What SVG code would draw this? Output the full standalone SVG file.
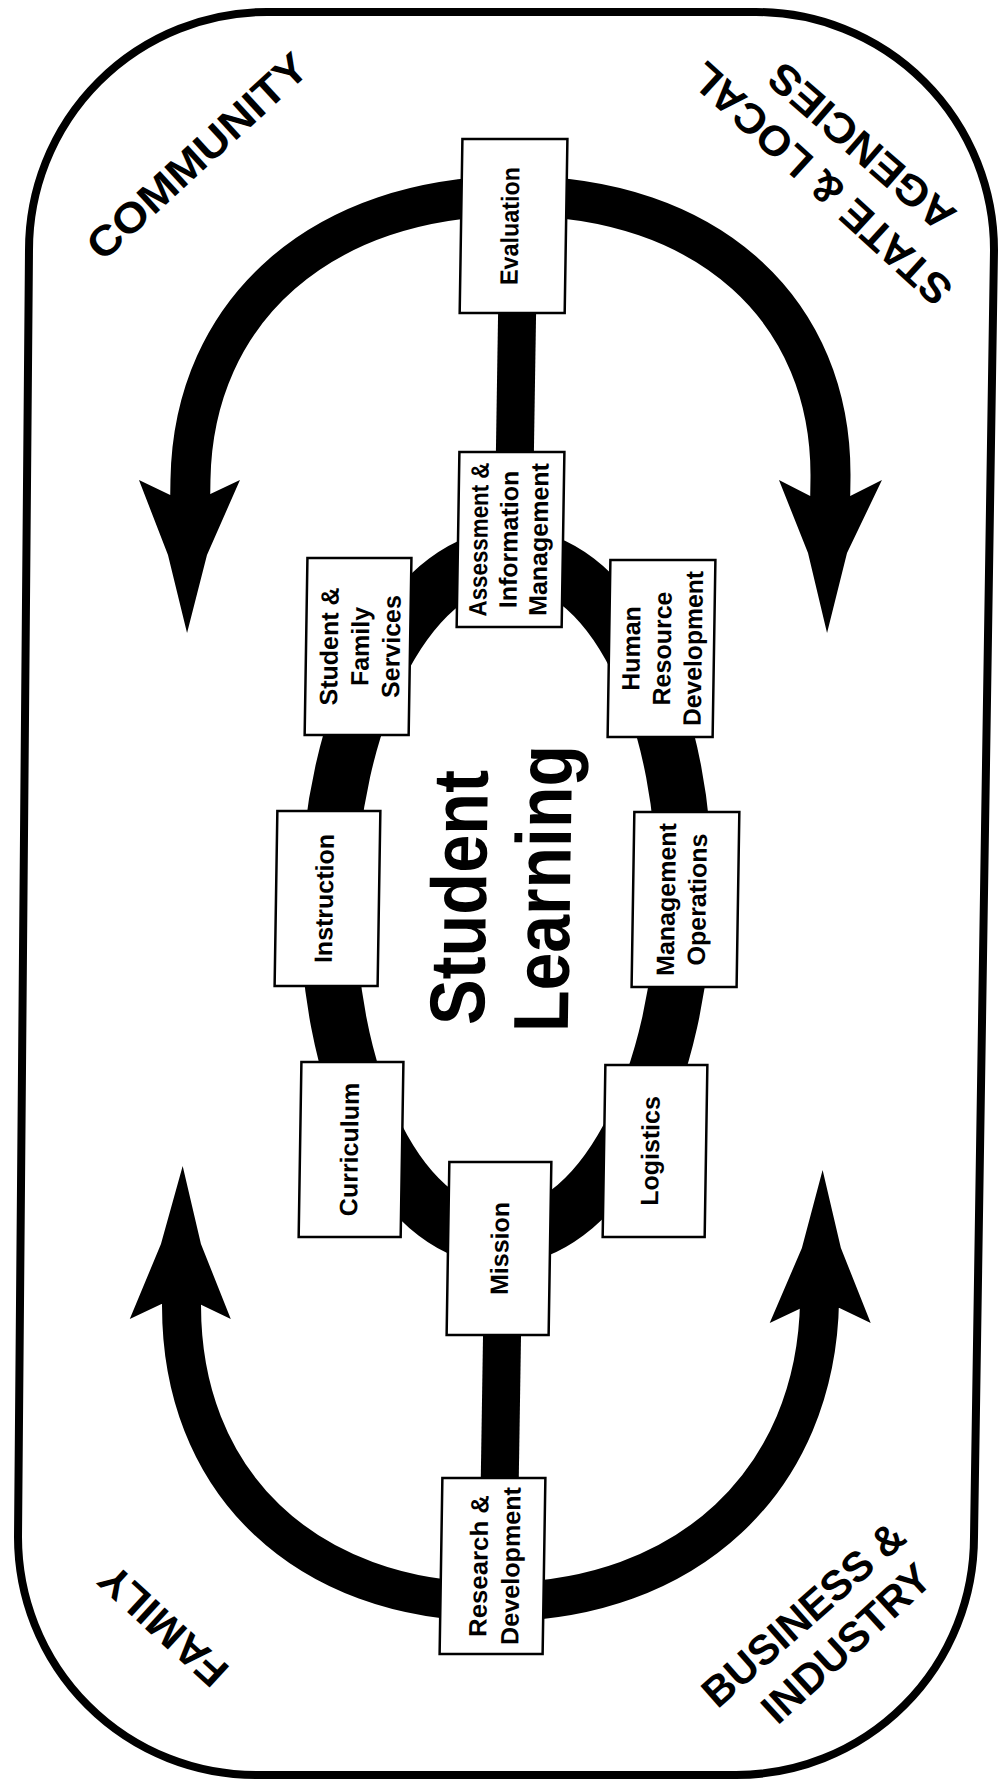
<svg xmlns="http://www.w3.org/2000/svg" width="1000" height="1782" viewBox="0 0 1000 1782">
<style>
.bg{fill:#fff}
.frame{fill:none;stroke:#000;stroke-width:8}
.band{fill:none;stroke:#000;stroke-linecap:butt}
.head,.bar{fill:#000}
.box rect{fill:#fff;stroke:#000;stroke-width:2.5}
.box text{font-family:"Liberation Sans",Arial,sans-serif;font-weight:bold;font-size:25px;text-anchor:middle;fill:#000}
.corner{font-family:"Liberation Sans",Arial,sans-serif;font-weight:bold;font-size:42px;text-anchor:middle;fill:#000}
.center{font-family:"Liberation Sans",Arial,sans-serif;font-weight:bold;font-size:78px;fill:#000}
</style>
<rect class="bg" width="1000" height="1782"/>
<path id="frame" class="frame" d="M267,12 L756,12 A238,238 0 0 1 994,250 L974,1537 A238,238 0 0 1 736,1775 L256,1775 A238,238 0 0 1 18,1537 L29,250 A238,238 0 0 1 267,12 Z"/>
<g id="corner-labels">
<text id="community" class="corner" transform="translate(207,167) rotate(-42.5)" textLength="283" lengthAdjust="spacingAndGlyphs">COMMUNITY</text>
<g id="state-local">
<text class="corner" transform="translate(831,173) rotate(-137.5)" textLength="337" lengthAdjust="spacingAndGlyphs">STATE &amp; LOCAL</text>
<text class="corner" transform="translate(871,136) rotate(-139)" textLength="232" lengthAdjust="spacingAndGlyphs">AGENCIES</text>
</g>
<text id="family" class="corner" transform="translate(173,1615) rotate(-137.5)" textLength="158" lengthAdjust="spacingAndGlyphs">FAMILY</text>
<g id="business-industry">
<text class="corner" transform="translate(813,1625) rotate(-41.5)" textLength="255" lengthAdjust="spacingAndGlyphs">BUSINESS &amp;</text>
<text class="corner" transform="translate(856,1654) rotate(-42.5)" textLength="213" lengthAdjust="spacingAndGlyphs">INDUSTRY</text>
</g>
</g>
<g transform="translate(14 0) skewX(-0.9)">
<g id="connectors">
<path class="band" stroke-width="40" d="M184,500 L184,480 C184,309.6 312,196 504,196 C696,196 824,309.6 824,480 L824,500"/>
<polygon class="head" points="164,495 132.5,480 162.7,555 183,633 201.7,555 233.5,480 202,495"/>
<polygon class="head" points="804,496 772.5,480 802.7,553 823,633 841.7,553 875.5,480 844,496"/>
<path class="band" stroke-width="39" d="M188,1290 L188,1300 C188,1481 316,1602 507,1602 C698,1602 826,1481 826,1300 L826,1290"/>
<polygon class="head" points="168,1304 136.5,1319 166.5,1244 187,1166 206.5,1244 237.5,1319 206,1304"/>
<polygon class="head" points="808,1308 776.5,1323 807.5,1248 827,1170 846.5,1248 877.5,1323 846,1308"/>
<ellipse class="band" stroke-width="56" cx="506.3" cy="897" rx="178" ry="340"/>
<rect class="bar" x="489" y="310" width="38" height="145"/>
<rect class="bar" x="490" y="1332" width="38" height="149"/>
</g>
<g id="nodes">
<g id="evaluation" class="box"><rect x="450.6" y="139" width="105" height="174"/>
<text transform="translate(508,226) rotate(-90)" textLength="118" lengthAdjust="spacingAndGlyphs">Evaluation</text></g>
<g id="assessment" class="box"><rect x="452.5" y="452" width="105" height="175"/>
<text transform="translate(482,539.5) rotate(-90)" textLength="154" lengthAdjust="spacingAndGlyphs">Assessment &amp;</text>
<text transform="translate(512,539.5) rotate(-90)">Information</text>
<text transform="translate(542,539.5) rotate(-90)">Management</text></g>
<g id="student-family" class="box"><rect x="302.2" y="558" width="104" height="177"/>
<text transform="translate(334,646.5) rotate(-90)">Student &amp;</text>
<text transform="translate(365,646.5) rotate(-90)">Family</text>
<text transform="translate(396,646.5) rotate(-90)">Services</text></g>
<g id="human-resource" class="box"><rect x="605.2" y="560" width="105" height="177"/>
<text transform="translate(636,648.5) rotate(-90)">Human</text>
<text transform="translate(667,648.5) rotate(-90)">Resource</text>
<text transform="translate(698,648.5) rotate(-90)" textLength="155" lengthAdjust="spacingAndGlyphs">Development</text></g>
<g id="instruction" class="box"><rect x="276.1" y="811" width="103" height="175"/>
<text transform="translate(333,898.5) rotate(-90)">Instruction</text></g>
<g id="management-operations" class="box"><rect x="633.1" y="812" width="105" height="175"/>
<text transform="translate(675,899.5) rotate(-90)">Management</text>
<text transform="translate(706,899.5) rotate(-90)">Operations</text></g>
<g id="curriculum" class="box"><rect x="304.1" y="1062" width="102" height="175"/>
<text transform="translate(362,1149.5) rotate(-90)">Curriculum</text></g>
<g id="logistics" class="box"><rect x="608.1" y="1065" width="102" height="172"/>
<text transform="translate(663,1151) rotate(-90)">Logistics</text></g>
<g id="mission" class="box"><rect x="453.6" y="1162" width="102" height="173"/>
<text transform="translate(514,1248.5) rotate(-90)">Mission</text></g>
<g id="research-development" class="box"><rect x="451.6" y="1478" width="103" height="176"/>
<text transform="translate(498,1566) rotate(-90)" textLength="142" lengthAdjust="spacingAndGlyphs">Research &amp;</text>
<text transform="translate(530,1566) rotate(-90)" textLength="158" lengthAdjust="spacingAndGlyphs">Development</text></g>
<g id="student-learning">
<text class="center" transform="translate(486,1025) rotate(-90)" textLength="255" lengthAdjust="spacingAndGlyphs">Student</text>
<text class="center" transform="translate(570,1032) rotate(-90)" textLength="287" lengthAdjust="spacingAndGlyphs">Learning</text>
</g>
</g>
</g>
</svg>
